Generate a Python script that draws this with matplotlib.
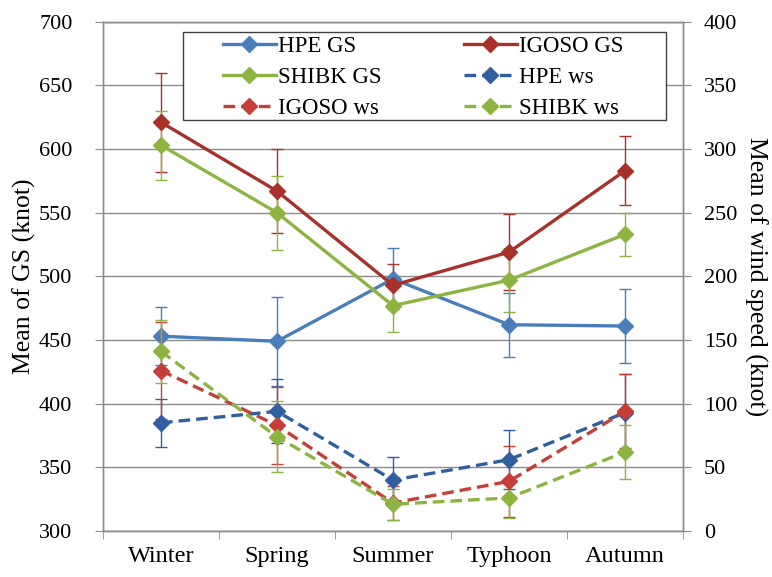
import matplotlib.pyplot as plt
import numpy as np
from matplotlib.patches import Rectangle

seasons = ["Winter", "Spring", "Summer", "Typhoon", "Autumn"]

# ground speed (left axis)
hpe_gs = [453, 449, 498, 462, 461]
hpe_gs_err = [23, 35, 24, 25, 29]
igoso_gs = [621, 567, 493, 519, 583]
igoso_gs_err = [39, 33, 17, 30, 27]
shibk_gs = [603, 550, 477, 497, 533]
shibk_gs_err = [27, 29, 21, 25, 17]

# wind speed (right axis)
hpe_ws = [85, 94, 40, 56, 93]
hpe_ws_err = [19, 25, 18, 23, 30]
igoso_ws = [126, 83, 22, 39, 94]
igoso_ws_err = [38, 30, 13, 28, 29]
shibk_ws = [141, 74, 21, 26, 62]
shibk_ws_err = [25, 28, 12, 16, 21]

plt.rcParams["font.family"] = ["Liberation Serif", "DejaVu Serif"]

BLUE = "#4A7EBB"
BLUE_WS = "#2F5F9E"
RED = "#A8322B"
RED_WS = "#C43F37"
GREEN = "#8DB440"
GRID = "#8C8C8C"

fig = plt.figure(figsize=(7.72, 5.77), dpi=100)
ax = fig.add_axes([0.1334, 0.0797, 0.7513, 0.8827])
ax2 = ax.twinx()

x = np.arange(len(seasons))


def draw(axis, values, err, color, dashed=False):
    c = axis.errorbar(
        x, values, yerr=err,
        color=color, ecolor=color,
        marker="D", markersize=8.5,
        linewidth=2.4,
        linestyle=(0, (3.5, 1.8)) if dashed else "-",
        elinewidth=1, capsize=4, capthick=1,
        zorder=3,
    )
    return c[0]


h_hpe_gs = draw(ax, hpe_gs, hpe_gs_err, BLUE)
h_igoso_gs = draw(ax, igoso_gs, igoso_gs_err, RED)
h_shibk_gs = draw(ax, shibk_gs, shibk_gs_err, GREEN)

h_hpe_ws = draw(ax2, hpe_ws, hpe_ws_err, BLUE_WS, dashed=True)
h_igoso_ws = draw(ax2, igoso_ws, igoso_ws_err, RED_WS, dashed=True)
h_shibk_ws = draw(ax2, shibk_ws, shibk_ws_err, GREEN, dashed=True)

ax.set_xlim(-0.5, len(seasons) - 0.5)
ax.set_ylim(300, 700)
ax.set_yticks(np.arange(300, 701, 50))
ax2.set_ylim(0, 400)
ax2.set_yticks(np.arange(0, 401, 50))

ax.set_xticks(x)
ax.set_xticklabels(seasons, fontsize=17.5)
ax.set_xticks(np.arange(-0.5, len(seasons)), minor=True)
ax.tick_params(axis="x", which="major", length=0, pad=11)
ax.tick_params(axis="x", which="minor", length=6, color=GRID, direction="out")
ax.tick_params(axis="y", length=6, color=GRID, labelsize=16, pad=16)
ax2.tick_params(axis="y", length=6, color=GRID, labelsize=16, pad=9)

ax.yaxis.grid(True, color=GRID, linewidth=1)
ax.set_axisbelow(True)

for a in (ax, ax2):
    for s in a.spines.values():
        s.set_color(GRID)
        s.set_linewidth(1)

ax.set_ylabel("Mean of GS (knot)", fontsize=18.5, labelpad=2)
ax2.set_ylabel("Mean of wind speed (knot)", fontsize=18.5, rotation=270,
               labelpad=22)

# legend box drawn separately so the padding matches the original
ax2.add_patch(Rectangle((0.138, 0.807), 0.833, 0.173, transform=ax2.transAxes,
                        facecolor="white", edgecolor="#404040", linewidth=1,
                        zorder=4))

handles = [h_hpe_gs, h_shibk_gs, h_igoso_ws, h_igoso_gs, h_hpe_ws, h_shibk_ws]
labels = ["HPE GS", "SHIBK GS", "IGOSO ws", "IGOSO GS", "HPE ws", "SHIBK ws"]
leg = ax2.legend(
    handles, labels,
    ncol=2, fontsize=16.5,
    loc="upper left", bbox_to_anchor=(0.207, 0.972),
    frameon=False, handlelength=2.3, handletextpad=0.1,
    labelspacing=0.44, borderpad=0, borderaxespad=0, columnspacing=3.6,
)
leg.set_zorder(5)

fig.savefig("out.png", dpi=100)
